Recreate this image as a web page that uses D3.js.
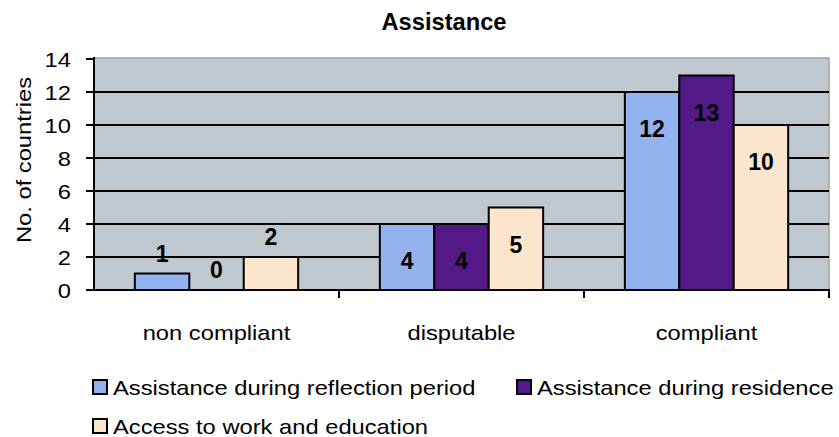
<!DOCTYPE html>
<html>
<head>
<meta charset="utf-8">
<script src="https://cdn.jsdelivr.net/npm/d3@7"></script>
<style>
  body { margin: 0; background: #fff; }
  text { font-family: "Liberation Sans", Arial, sans-serif; fill: #000; }
</style>
</head>
<body>
<div id="chart"></div>
<script>
// data
var categories = ["non compliant", "disputable", "compliant"]
var series = ["Assistance during reflection period", "Assistance during residence", "Access to work and education"]
var reflection = [1, 4, 12]
var residence = [0, 4, 13]
var workEducation = [2, 5, 10]
var yTicks = [0, 2, 4, 6, 8, 10, 12, 14]

var values = [reflection, residence, workEducation]
var colors = ["#92b3f0", "#531a87", "#fbe5cc"]

var width = 839, height = 437
var plotLeft = 94, plotRight = 829, plotTop = 59, plotBottom = 290
var sx = 1.13 // the original text is a bit wide

var svg = d3.select("#chart").append("svg")
  .attr("width", width)
  .attr("height", height)

var x0 = d3.scaleBand().domain(categories).range([plotLeft, plotRight])
var x1 = d3.scaleBand().domain(series).range([0, x0.bandwidth()]).paddingOuter(0.75)
var y = d3.scaleLinear().domain([0, 14]).range([plotBottom, plotTop])

// helper for stretched text
function label(g, str, x, yy, opts) {
  opts = opts || {}
  return g.append("text")
    .attr("transform", "translate(" + x + "," + yy + ")" + (opts.rotate ? " rotate(" + opts.rotate + ")" : "") + " scale(" + (opts.sx || sx) + ",1)")
    .attr("text-anchor", opts.anchor || "middle")
    .style("font-size", (opts.size || 21) + "px")
    .style("font-weight", opts.bold ? "bold" : "normal")
    .text(str)
}

// plot background
svg.append("rect")
  .attr("x", plotLeft).attr("y", plotTop - 1)
  .attr("width", plotRight - plotLeft).attr("height", plotBottom - plotTop + 1)
  .attr("fill", "#bfc7cf")
  .attr("stroke", "#9aa2aa")
  .attr("stroke-width", 1.5)

// gridlines
svg.append("g").selectAll("line")
  .data(yTicks.filter(d => d > 0 && d < 14))
  .enter().append("line")
    .attr("x1", plotLeft).attr("x2", plotRight)
    .attr("y1", d => y(d)).attr("y2", d => y(d))
    .attr("stroke", "#000")
    .attr("stroke-width", 2)

// bars
var groups = svg.append("g").selectAll("g")
  .data(series)
  .enter().append("g")
    .attr("fill", (d, i) => colors[i])

groups.selectAll("rect")
  .data((s, i) => categories.map((c, j) => ({ cat: c, s: s, v: values[i][j] })))
  .enter().append("rect")
    .attr("x", d => x0(d.cat) + x1(d.s))
    .attr("y", d => y(d.v))
    .attr("width", x1.bandwidth())
    .attr("height", d => plotBottom - y(d.v))
    .attr("stroke", "#000")
    .attr("stroke-width", 2)

// data labels
var labels = svg.append("g")
series.forEach(function(s, i) {
  categories.forEach(function(c, j) {
    var v = values[i][j]
    var cx = x0(c) + x1(s) + x1.bandwidth() / 2
    var cy = v <= 2 ? y(v) - 12 : y(v) + 45
    label(labels, v, cx, cy, { bold: true, size: 23, sx: 1 })
  })
})

// y axis
var yAxis = svg.append("g")
yAxis.append("line")
  .attr("x1", plotLeft).attr("x2", plotLeft)
  .attr("y1", plotTop - 2).attr("y2", plotBottom)
  .attr("stroke", "#000").attr("stroke-width", 2)
yTicks.forEach(function(t) {
  yAxis.append("line")
    .attr("x1", plotLeft - 8).attr("x2", plotLeft)
    .attr("y1", y(t)).attr("y2", y(t))
    .attr("stroke", "#000").attr("stroke-width", 2)
  label(yAxis, t, 71, y(t) + 7.5, { anchor: "end" })
})

// x axis
var xAxis = svg.append("g")
xAxis.append("line")
  .attr("x1", plotLeft - 8).attr("x2", plotRight + 1)
  .attr("y1", plotBottom).attr("y2", plotBottom)
  .attr("stroke", "#000").attr("stroke-width", 2)
categories.forEach(function(c) {
  xAxis.append("line")
    .attr("x1", x0(c) + x0.bandwidth()).attr("x2", x0(c) + x0.bandwidth())
    .attr("y1", plotBottom).attr("y2", plotBottom + 8)
    .attr("stroke", "#000").attr("stroke-width", 2)
  label(xAxis, c, x0(c) + x0.bandwidth() / 2, 340)
})

// axis title and chart title
label(svg, "No. of countries", 31, 160, { rotate: -90 })
label(svg, "Assistance", 444, 30, { bold: true, size: 23, sx: 1.03 })

// legend
var legendPos = [[93, 380], [517, 380], [93, 419]]
var legend = svg.append("g")
series.forEach(function(s, i) {
  legend.append("rect")
    .attr("x", legendPos[i][0]).attr("y", legendPos[i][1])
    .attr("width", 14).attr("height", 14)
    .attr("fill", colors[i])
    .attr("stroke", "#000").attr("stroke-width", 2)
  label(legend, s, legendPos[i][0] + 20, legendPos[i][1] + 15, { anchor: "start" })
})
</script>
</body>
</html>
